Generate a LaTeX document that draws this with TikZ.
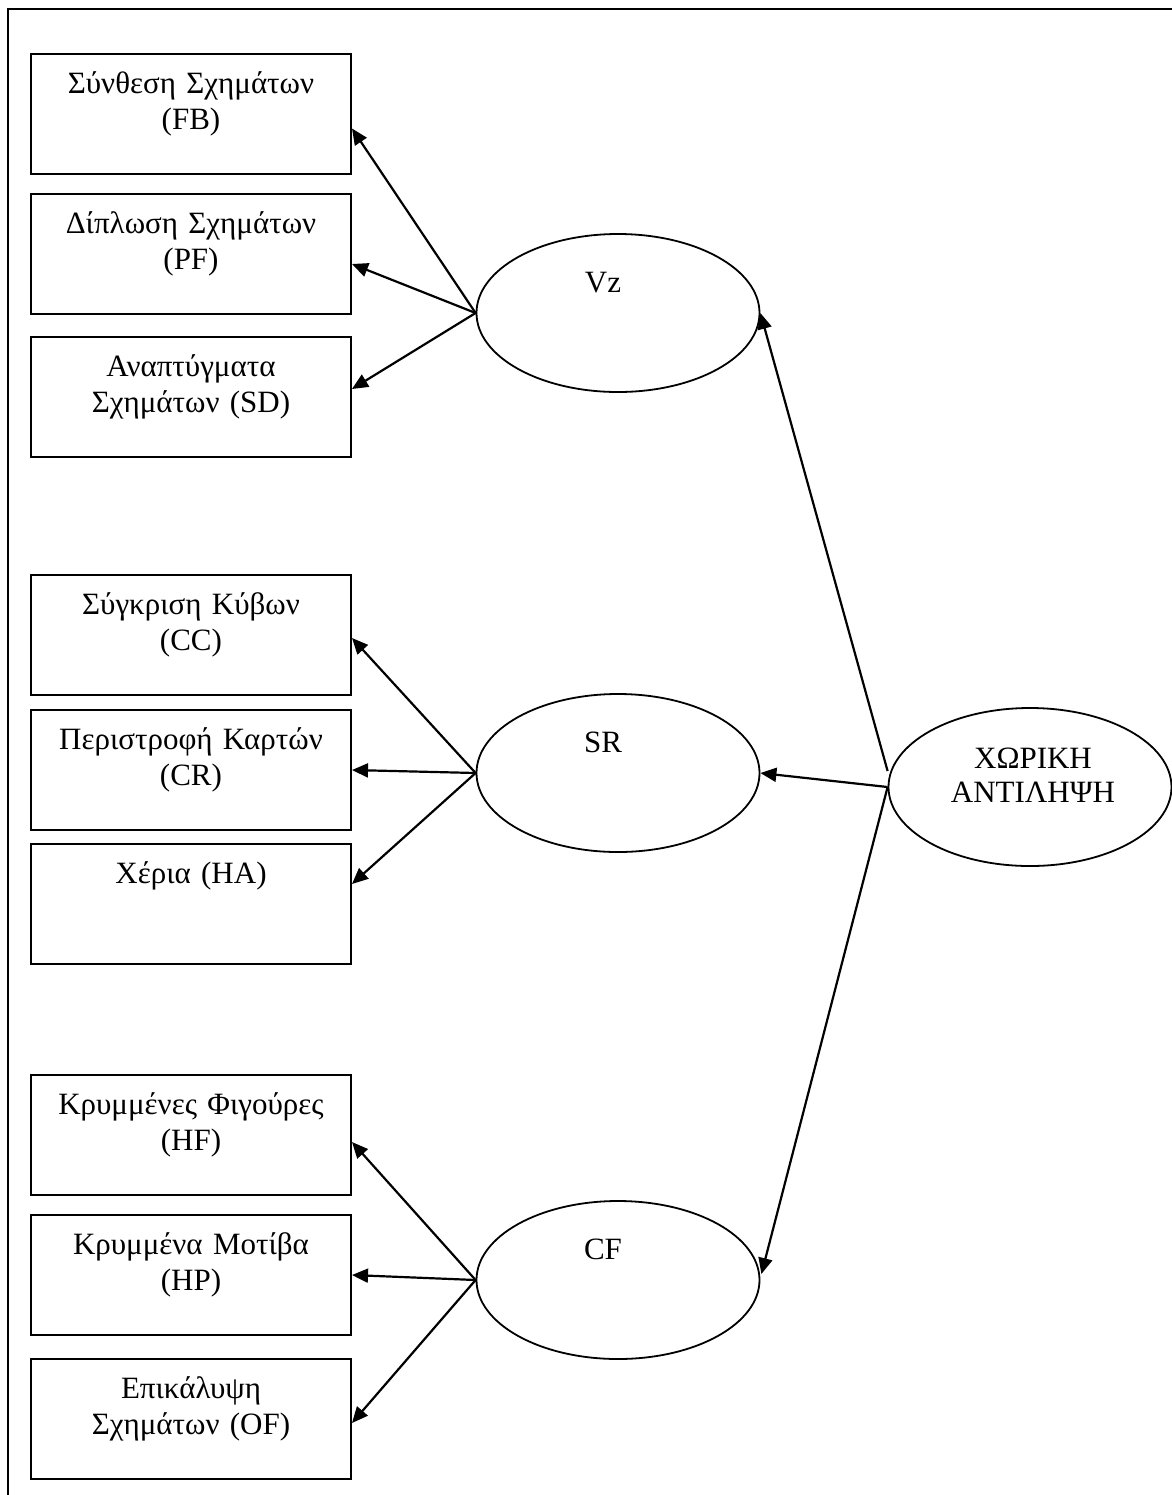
\documentclass[tikz,border=0pt]{standalone}
\usepackage{fontspec}
\setmainfont{Liberation Serif}
\usetikzlibrary{arrows.meta,shapes.geometric,calc}
\newcommand\diagfont{\fontsize{15.5pt}{18pt}\selectfont}
\begin{document}
\begin{tikzpicture}[x=0.5pt,y=-0.5pt,
  boxnode/.style={draw, line width=1pt, rectangle, anchor=north west,
    text width=160pt, inner xsep=0pt, inner ysep=0pt, align=center,
    text height=19.5pt, text depth=40.5pt, font=\diagfont},
  ellnode/.style={draw, line width=0.9pt, ellipse, minimum width=141.5pt,
    minimum height=79pt, inner sep=0pt},
  elltext/.style={anchor=base, inner sep=0pt, font=\diagfont},
  arr/.style={-{Triangle[length=8pt,width=7pt]}, line width=1.1pt}]
\useasboundingbox (0,0) rectangle (1172,1495);
% frame
\draw[line width=1.2pt] (8,1495) -- (8,9) -- (1172,9);
% boxes
\node[boxnode] (fb) at (30,53) {Σύνθεση Σχημάτων\\(FB)};
\node[boxnode] (pf) at (30,193) {Δίπλωση Σχημάτων\\(PF)};
\node[boxnode] (sd) at (30,336) {Αναπτύγματα\\Σχημάτων (SD)};
\node[boxnode] (cc) at (30,574) {Σύγκριση Κύβων\\(CC)};
\node[boxnode] (cr) at (30,709) {Περιστροφή Καρτών\\(CR)};
\node[boxnode] (ha) at (30,843) {Χέρια (HA)};
\node[boxnode] (hf) at (30,1074) {Κρυμμένες Φιγούρες\\(HF)};
\node[boxnode] (hp) at (30,1214) {Κρυμμένα Μοτίβα\\(HP)};
\node[boxnode] (of) at (30,1358) {Επικάλυψη\\Σχημάτων (OF)};
% ellipses
\node[ellnode] (vz) at (618,313) {};
\node[ellnode] (sr) at (618,773) {};
\node[ellnode] (cf) at (618,1280) {};
\node[ellnode] (sa) at (1030,787) {};
\node[elltext] (vzt) at (603,292) {Vz};
\node[elltext] (srt) at (603,752) {SR};
\node[elltext] (cft) at (603,1259) {CF};
\node[inner sep=0pt, align=center, font=\fontsize{15.5pt}{17pt}\selectfont] (sat) at (1033,775) {ΧΩΡΙΚΗ\\ΑΝΤΙΛΗΨΗ};
% arrows from latent factors to tests
\draw[arr] (vz.west) -- ($(fb.east)+(0,14.5)$);
\draw[arr] (vz.west) -- ($(pf.east)+(0,10)$);
\draw[arr] (vz.west) -- ($(sd.east)+(0,-8)$);
\draw[arr] (sr.west) -- ($(cc.east)+(0,3)$);
\draw[arr] (sr.west) -- (cr.east);
\draw[arr] (sr.west) -- ($(ha.east)+(0,-20)$);
\draw[arr] (cf.west) -- ($(hf.east)+(0,7)$);
\draw[arr] (cf.west) -- (hp.east);
\draw[arr] (cf.west) -- ($(of.east)+(0,4)$);
% arrows from general factor
\draw[arr] ($(sa.west)+(0,-16)$) -- (vz.east);
\draw[arr] (sa.west) -- (sr.east);
\draw[arr] (sa.west) -- ($(cf.east)+(1,-6)$);
\end{tikzpicture}
\end{document}
